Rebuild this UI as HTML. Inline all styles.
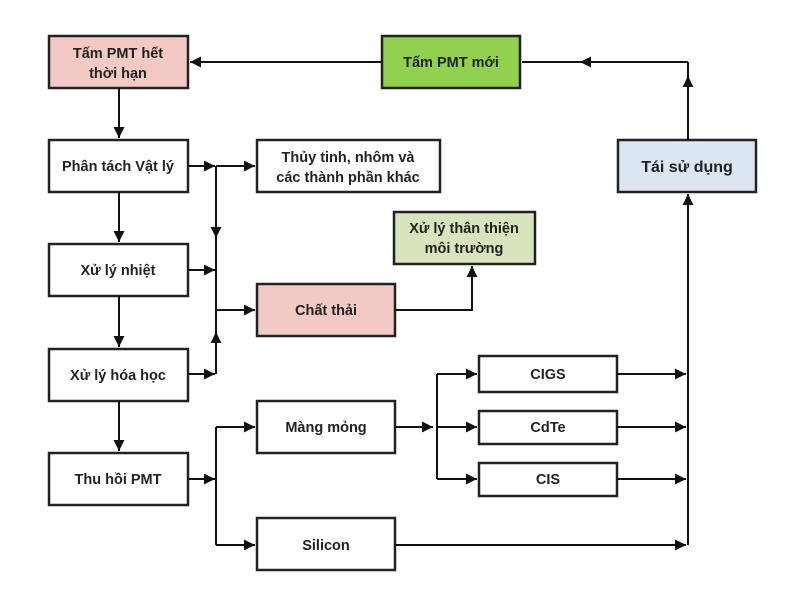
<!DOCTYPE html>
<html><head><meta charset="utf-8"><style>
body{margin:0;background:#fff}
svg text{font-family:"Liberation Sans","DejaVu Sans",sans-serif;font-weight:bold;font-size:14.5px;fill:#222;text-anchor:middle}
</style></head><body>
<svg width="800" height="604" viewBox="0 0 800 604" xmlns="http://www.w3.org/2000/svg">
<defs><marker id="a" viewBox="0 0 10 10" refX="10" refY="5" markerWidth="12" markerHeight="11" markerUnits="userSpaceOnUse" orient="auto"><path d="M0,0L10,5L0,10z" fill="#111"/></marker></defs>
<g stroke="#222" stroke-width="2.5">
<rect x="49" y="36" width="139" height="52" fill="#f2c9c4"/>
<rect x="382" y="36" width="138" height="52" fill="#92d050"/>
<rect x="49" y="140" width="139" height="52" fill="#fff"/>
<rect x="257" y="140" width="183" height="52" fill="#fff"/>
<rect x="394" y="212" width="141" height="52" fill="#d7e4bc"/>
<rect x="49" y="244" width="139" height="52" fill="#fff"/>
<rect x="257" y="284" width="138" height="52" fill="#f2c9c4"/>
<rect x="49" y="349" width="139" height="52" fill="#fff"/>
<rect x="49" y="453" width="139" height="52" fill="#fff"/>
<rect x="618" y="140" width="138" height="52" fill="#dce6f2"/>
<rect x="257" y="401" width="138" height="52" fill="#fff"/>
<rect x="479" y="356" width="138" height="36" fill="#fff"/>
<rect x="479" y="411" width="138" height="33" fill="#fff"/>
<rect x="479" y="463" width="138" height="33" fill="#fff"/>
<rect x="257" y="518" width="138" height="52" fill="#fff"/>
</g>
<g stroke="#111" stroke-width="2" fill="none">
<path d="M382 62H190" marker-end="url(#a)"/>
<path d="M688 62H522"/><path d="M620 62H580" marker-end="url(#a)"/>
<path d="M688 62V80"/>
<path d="M688 140V76" marker-end="url(#a)"/>
<path d="M119 88V138" marker-end="url(#a)"/>
<path d="M119 192V242" marker-end="url(#a)"/>
<path d="M119 296V347" marker-end="url(#a)"/>
<path d="M119 401V451" marker-end="url(#a)"/>
<path d="M188 166H215" marker-end="url(#a)"/>
<path d="M188 270H215" marker-end="url(#a)"/>
<path d="M188 374H215" marker-end="url(#a)"/>
<path d="M216 166H255" marker-end="url(#a)"/>
<path d="M216 166V374"/>
<path d="M216 180V238" marker-end="url(#a)"/>
<path d="M216 374V332" marker-end="url(#a)"/>
<path d="M216 310H255" marker-end="url(#a)"/>
<path d="M395 310H472V266" marker-end="url(#a)"/>
<path d="M188 479H215" marker-end="url(#a)"/>
<path d="M216 427V545"/>
<path d="M216 427H255" marker-end="url(#a)"/>
<path d="M216 545H255" marker-end="url(#a)"/>
<path d="M395 427H433" marker-end="url(#a)"/>
<path d="M437 374V479"/>
<path d="M437 374H477" marker-end="url(#a)"/>
<path d="M437 427H477" marker-end="url(#a)"/>
<path d="M437 479H477" marker-end="url(#a)"/>
<path d="M617 374H686" marker-end="url(#a)"/>
<path d="M617 427H686" marker-end="url(#a)"/>
<path d="M617 479H686" marker-end="url(#a)"/>
<path d="M395 545H686" marker-end="url(#a)"/>
<path d="M688 545V194" marker-end="url(#a)"/>
</g>
<text x="118" y="58">Tấm PMT hết</text><text x="118" y="78">thời hạn</text>
<text x="451" y="67">Tấm PMT mới</text>
<text x="118" y="171">Phân tách Vật lý</text>
<text x="348" y="162">Thủy tinh, nhôm và</text><text x="348" y="182">các thành phần khác</text>
<text x="464" y="233">Xử lý thân thiện</text><text x="464" y="253">môi trường</text>
<text x="118" y="275">Xử lý nhiệt</text>
<text x="326" y="315">Chất thải</text>
<text x="118" y="380">Xử lý hóa học</text>
<text x="118" y="484">Thu hồi PMT</text>
<text x="687" y="172" style="font-size:16px">Tái sử dụng</text>
<text x="326" y="432">Màng mỏng</text>
<text x="548" y="379">CIGS</text>
<text x="548" y="432">CdTe</text>
<text x="548" y="484">CIS</text>
<text x="326" y="550">Silicon</text>
</svg>
</body></html>
